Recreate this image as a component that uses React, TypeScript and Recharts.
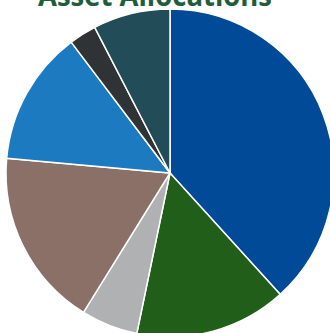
import React from 'react';
import { PieChart, Pie, Cell } from 'recharts';

const categories = ['Large Cap', 'Mid Cap', 'Small Cap', 'International', 'Fixed Income', 'Cash', 'Alternatives'];
const allocations = [38.3, 15.0, 5.6, 17.6, 13.3, 2.7, 7.6];
const colors = ['#004a97', '#215e1a', '#b0b1b3', '#8b7068', '#1c7bc0', '#2f3336', '#224c57'];
const title = 'Asset Allocations';

const data = categories.map((name, i) => ({ name, value: allocations[i] }));

export default function App() {
  return (
    <div style={{ position: 'absolute', left: 0, top: 0, width: 330, height: 333, overflow: 'hidden', background: '#fff' }}>
      <PieChart width={330} height={333} margin={{ top: 0, right: 0, bottom: 0, left: 0 }}>
        <Pie
          data={data}
          dataKey="value"
          nameKey="name"
          cx={170}
          cy={173}
          outerRadius={164}
          startAngle={90}
          endAngle={-270}
          stroke="#ffffff"
          strokeWidth={1.5}
          isAnimationActive={false}
        >
          {data.map((d, i) => (
            <Cell key={d.name} fill={colors[i]} />
          ))}
        </Pie>
      </PieChart>
      <svg width={330} height={333} style={{ position: 'absolute', left: 0, top: 0, pointerEvents: 'none' }}>
        <text x={155} y={6} textAnchor="middle" fontFamily="'Open Sans', sans-serif" fontWeight={700} fontSize={28} fill="#1f5e3b" textLength={234} lengthAdjust="spacingAndGlyphs">
          {title}
        </text>
      </svg>
    </div>
  );
}
